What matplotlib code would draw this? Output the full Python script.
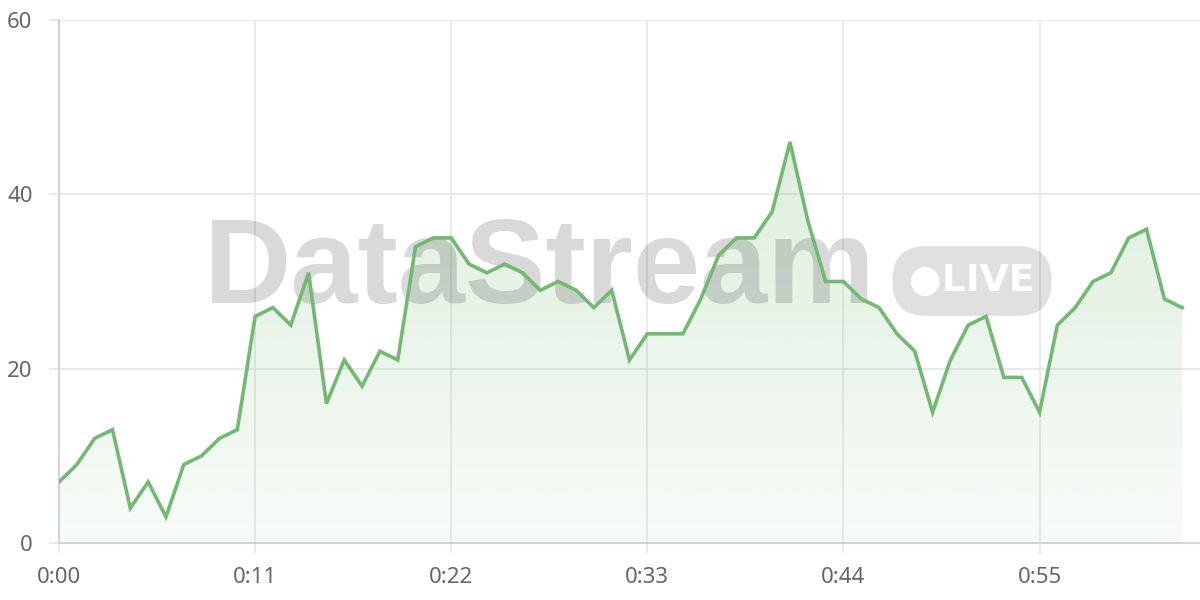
import numpy as np
import matplotlib
matplotlib.use("Agg")
import matplotlib.pyplot as plt
from matplotlib.colors import to_rgb

# seconds 0..63, one reading per second
values = [7, 9, 12, 13, 4, 7, 3, 9, 10, 12,
          13, 26, 27, 25, 31, 16, 21, 18, 22, 21,
          34, 35, 35, 32, 31, 32, 31, 29, 30, 29,
          27, 29, 21, 24, 24, 24, 28, 33, 35, 35,
          38, 46, 37, 30, 30, 28, 27, 24, 22, 15,
          21, 25, 26, 19, 19, 15, 25, 27, 30, 31,
          35, 36, 28, 27]
seconds = list(range(len(values)))
x_ticks = [0, 11, 22, 33, 44, 55]
x_labels = ["0:00", "0:11", "0:22", "0:33", "0:44", "0:55"]
y_ticks = [0, 20, 40, 60]

line_color = "#73b973"
grid_color = "#e6e6e6"
plt.rcParams["font.family"] = ["Noto Sans", "DejaVu Sans"]

fig = plt.figure(figsize=(12, 6), dpi=100)
ax = fig.add_axes([59 / 1200, 57 / 600, 1 - 59 / 1200, (543 - 20) / 600])
ax.set_xlim(0, 64)
ax.set_ylim(0, 60)

# gradient area under the line
poly = ax.fill_between(seconds, values, 0, color="none", lw=0)
r, g, b = to_rgb(line_color)
grad = np.zeros((256, 1, 4))
grad[:, 0, 0], grad[:, 0, 1], grad[:, 0, 2] = r, g, b
grad[:, 0, 3] = np.linspace(0.05, 0.24, 256)
img = ax.imshow(grad, extent=[0, seconds[-1], 0, max(values)], origin="lower",
                aspect="auto", zorder=1)
img.set_clip_path(poly.get_paths()[0], transform=ax.transData)

ax.plot(seconds, values, color=line_color, lw=2.6, zorder=4,
        solid_joinstyle="miter")

# watermark (under the line)
ax.text(540 / 1200, 1 - 271 / 600, "DataStream", ha="center", va="center",
        fontsize=87, fontweight="bold", color="black", alpha=0.15, zorder=3,
        transform=fig.transFigure, family=["Liberation Sans", "DejaVu Sans"])
ax.text(972 / 1200, 1 - 281 / 600, "\u25CFLIVE", ha="center", va="center",
        fontsize=27, fontweight="bold", color="white", zorder=3,
        transform=fig.transFigure, family=["DejaVu Sans"],
        bbox=dict(boxstyle="round,pad=0.45,rounding_size=0.9",
                  fc=(0, 0, 0, 0.12), ec="none"))

ax.set_xticks(x_ticks)
ax.set_xticklabels(x_labels)
ax.set_yticks(y_ticks)
ax.grid(True, color=grid_color, lw=1.2, zorder=0)
ax.set_axisbelow(True)
for s in ["top", "right"]:
    ax.spines[s].set_visible(False)
for s in ["left", "bottom"]:
    ax.spines[s].set_color("#d4d4d4")
    ax.spines[s].set_linewidth(1.5)
ax.tick_params(axis="both", length=7, width=1.2, color=grid_color,
               labelcolor="#666666", labelsize=16)
ax.tick_params(axis="y", pad=12)
ax.tick_params(axis="x", pad=10)

fig.savefig("out.png", dpi=100)
